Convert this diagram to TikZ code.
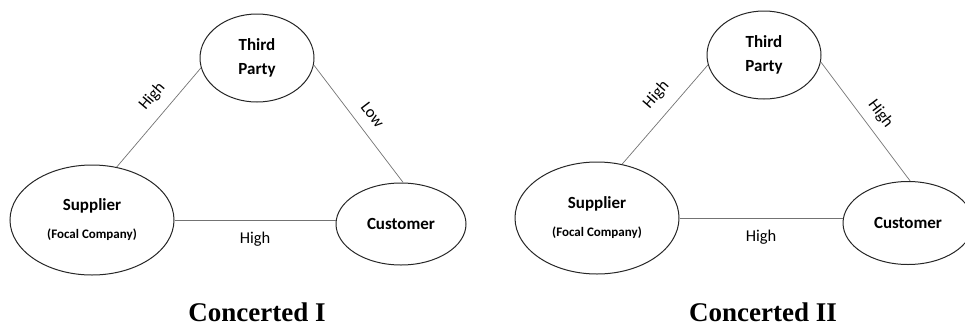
\documentclass[tikz,border=0pt]{standalone}
\usepackage{fontspec}
\setmainfont{Carlito}
\newfontfamily\titlefont{Liberation Serif}
\usetikzlibrary{shapes.geometric}

\tikzset{
  party/.style   = {ellipse, draw=black!85, line width=1pt, inner sep=0pt,
                    align=center, font=\fontsize{17}{20}\selectfont\bfseries},
  tie/.style     = {draw=black!55, line width=0.7pt},
  level/.style   = {font=\fontsize{16.5}{19}\selectfont, inner sep=2pt},
  caption/.style = {anchor=base, font=\fontsize{27}{32}\selectfont\titlefont\bfseries},
}

\newcommand{\focal}{{\fontsize{13}{15}\selectfont (Focal Company)}}

\begin{document}
\begin{tikzpicture}[x=1pt, y=-1pt]
    \clip (0,0) rectangle (965,327);

    % Concerted I
    \node [party, minimum width=114pt, minimum height=88pt] (tpA)  at (257, 58) {Third\\[4pt]Party};
    \node [party, minimum width=164pt, minimum height=110pt] (supA) at ( 92,220) {Supplier\\[8pt]\focal};
    \node [party, minimum width=130pt, minimum height=82pt] (cusA) at (401,224) {Customer};

    \draw [tie] (supA.65) -- (tpA.190)
    node [level, sloped, above=9pt, pos=.59] {High};
    \draw [tie] (tpA.-7) -- (cusA.87)
    node [level, sloped, above=9pt, pos=.51] {Low};
    \draw [tie] (supA.east) -- (supA.east -| cusA.west)
    node [level, below=10pt, midway] {High};

    \node [caption] (capA) at (257,321) {Concerted I};

    % Concerted II
    \node [party, minimum width=114pt, minimum height=88pt] (tpB)  at (764, 55) {Third\\[4pt]Party};
    \node [party, minimum width=164pt, minimum height=112pt] (supB) at (597,218) {Supplier\\[8pt]\focal};
    \node [party, minimum width=130pt, minimum height=83pt] (cusB) at (908,223) {Customer};

    \draw [tie] (supB.65) -- (tpB.190)
    node [level, sloped, above=10pt, pos=.57] {High};
    \draw [tie] (tpB.-7) -- (cusB.87)
    node [level, sloped, above=7pt, pos=.52] {High};
    \draw [tie] (supB.east) -- (supB.east -| cusB.west)
    node [level, below=10pt, midway] {High};

    \node [caption] (capB) at (763,321) {Concerted II};
  \end{tikzpicture}
\end{document}
